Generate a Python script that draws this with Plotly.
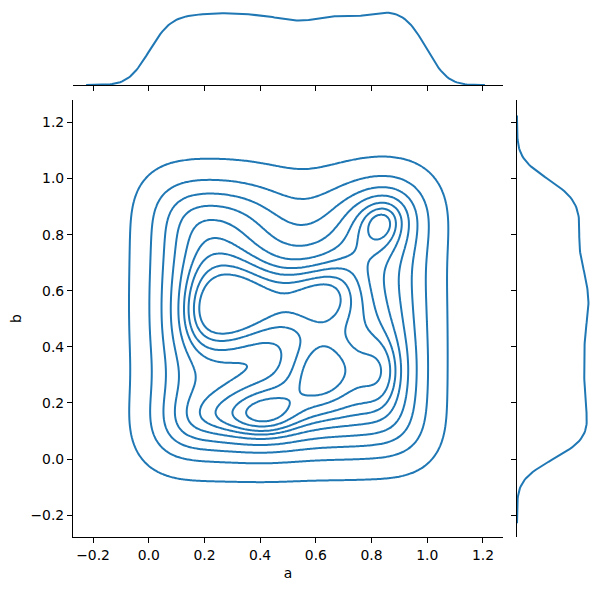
import numpy as np
import plotly.graph_objects as go

# ---- data: estimated relative point density per 0.1 x 0.1 cell (rows: b from top to bottom) ----
a_centers = [0.05, 0.15, 0.25, 0.35, 0.45, 0.55, 0.65, 0.75, 0.85, 0.95]
b_centers = [0.95, 0.85, 0.75, 0.65, 0.55, 0.45, 0.35, 0.25, 0.15, 0.05]
cell_weights = [
    [0.95, 1.05, 1.05, 0.95, 0.70, 0.40, 0.65, 1.00, 1.40, 1.05],
    [0.95, 1.00, 1.00, 0.95, 0.85, 0.50, 0.80, 1.00, 1.55, 1.20],
    [0.95, 1.00, 1.00, 0.95, 0.85, 0.75, 0.85, 1.05, 0.85, 1.00],
    [1.00, 1.05, 1.15, 1.15, 1.05, 1.10, 1.25, 1.00, 0.85, 1.00],
    [1.00, 1.10, 1.25, 1.20, 1.15, 1.20, 1.35, 1.05, 0.95, 1.05],
    [1.00, 1.15, 1.25, 1.10, 1.05, 0.85, 0.90, 1.00, 0.95, 1.05],
    [0.90, 0.95, 0.90, 0.85, 0.85, 1.20, 1.45, 0.80, 1.45, 1.00],
    [0.90, 0.90, 0.90, 1.00, 1.05, 1.00, 1.35, 0.80, 1.35, 1.00],
    [1.10, 1.10, 1.10, 1.25, 1.40, 0.95, 0.95, 1.00, 0.95, 1.00],
    [1.10, 1.15, 1.15, 1.20, 1.25, 1.10, 1.10, 1.10, 1.00, 1.05],
]
tick_vals = [-0.2, 0.0, 0.2, 0.4, 0.6, 0.8, 1.0, 1.2]
tick_text = ["\u22120.2", "0.0", "0.2", "0.4", "0.6", "0.8", "1.0", "1.2"]
x_label = "a"
y_label = "b"

# KDE settings (seaborn-like)
bw_2d = 0.095
bw_1d = 0.066
n_levels = 10
thresh = 0.05
a_support = (-0.225, 1.207)
b_support = (-0.229, 1.225)

COLOR = "#1f77b4"

ac = np.array(a_centers)
bc = np.array(b_centers)
W = np.array(cell_weights)

# ---- 2D density ----
gx = np.linspace(-0.3, 1.3, 240)
gy = np.linspace(-0.3, 1.3, 240)
kx = np.exp(-0.5 * ((gx[None, :] - ac[:, None]) / bw_2d) ** 2)
ky = np.exp(-0.5 * ((gy[None, :] - bc[:, None]) / bw_2d) ** 2)
Z = ky.T @ W @ kx
Z = Z / (W.sum() * 2 * np.pi * bw_2d ** 2)

vals = np.sort(Z.ravel())[::-1]
cum = np.cumsum(vals) / vals.sum()
qs = np.linspace(thresh, 1, n_levels)
idx = np.clip(np.searchsorted(cum, 1 - qs), 0, len(vals) - 1)
levels = vals[idx][:-1]

# ---- 1D marginals ----
mx = np.linspace(a_support[0], a_support[1], 200)
my = np.linspace(b_support[0], b_support[1], 200)
col_w = W.sum(axis=0)
row_w = W.sum(axis=1)
fx = (col_w[:, None] * np.exp(-0.5 * ((mx[None, :] - ac[:, None]) / bw_1d) ** 2)).sum(0)
fx = fx / (W.sum() * np.sqrt(2 * np.pi) * bw_1d)
fy = (row_w[:, None] * np.exp(-0.5 * ((my[None, :] - bc[:, None]) / bw_1d) ** 2)).sum(0)
fy = fy / (W.sum() * np.sqrt(2 * np.pi) * bw_1d)

W_PX, H_PX = 601, 590
OFF = 8  # page body margin of the browser
fig = go.Figure()

for lv in levels:
    fig.add_trace(go.Contour(
        x=gx, y=gy, z=Z,
        autocontour=False,
        contours=dict(start=float(lv), end=float(lv), size=1.0, coloring="lines", showlabels=False),
        line=dict(color=COLOR, width=2, smoothing=1),
        colorscale=[[0, COLOR], [1, COLOR]],
        showscale=False, hoverinfo="skip",
        xaxis="x", yaxis="y",
    ))

fig.add_trace(go.Scatter(x=mx, y=fx, mode="lines", line=dict(color=COLOR, width=2),
                         xaxis="x2", yaxis="y2", hoverinfo="skip"))
fig.add_trace(go.Scatter(x=fy, y=my, mode="lines", line=dict(color=COLOR, width=2),
                         xaxis="x3", yaxis="y3", hoverinfo="skip"))

font = dict(family="DejaVu Sans", size=13.9, color="black")
axis_common = dict(showline=True, linecolor="black", linewidth=1.1, ticks="outside",
                   ticklen=5, tickwidth=1.1, tickcolor="black", showgrid=False,
                   zeroline=False, tickfont=font, automargin=False)


def hx(p0, p1):
    return ((p0 - OFF) / W_PX, (p1 - OFF) / W_PX)


def vy(top, bottom):
    return (1 - (bottom - OFF) / H_PX, 1 - (top - OFF) / H_PX)


main_x = hx(73, 503)
main_y = vy(100, 537)

fig.update_layout(
    width=W_PX, height=H_PX,
    margin=dict(l=0, r=0, t=0, b=0, autoexpand=False),
    paper_bgcolor="white", plot_bgcolor="white",
    showlegend=False,
    font=font,
    xaxis=dict(domain=main_x, range=[-0.272, 1.272], tickvals=tick_vals, ticktext=tick_text,
               title=dict(text=x_label, font=font, standoff=6), anchor="y", **axis_common),
    yaxis=dict(domain=main_y, range=[-0.278, 1.28], tickvals=tick_vals, ticktext=tick_text,
               title=dict(text=y_label, font=font, standoff=8), anchor="x", **axis_common),
    xaxis2=dict(domain=main_x, range=[-0.272, 1.272], tickvals=tick_vals, showticklabels=False,
                anchor="y2", **axis_common),
    yaxis2=dict(domain=vy(9, 85), range=[0, float(fx.max()) * 1.05],
                visible=False, anchor="x2", automargin=False),
    xaxis3=dict(domain=hx(517, 592), range=[0, float(fy.max()) * 1.05],
                visible=False, anchor="y3", automargin=False),
    yaxis3=dict(domain=main_y, range=[-0.278, 1.28], tickvals=tick_vals, showticklabels=False,
                anchor="x3", **axis_common),
)

fig.write_html("out.html")
